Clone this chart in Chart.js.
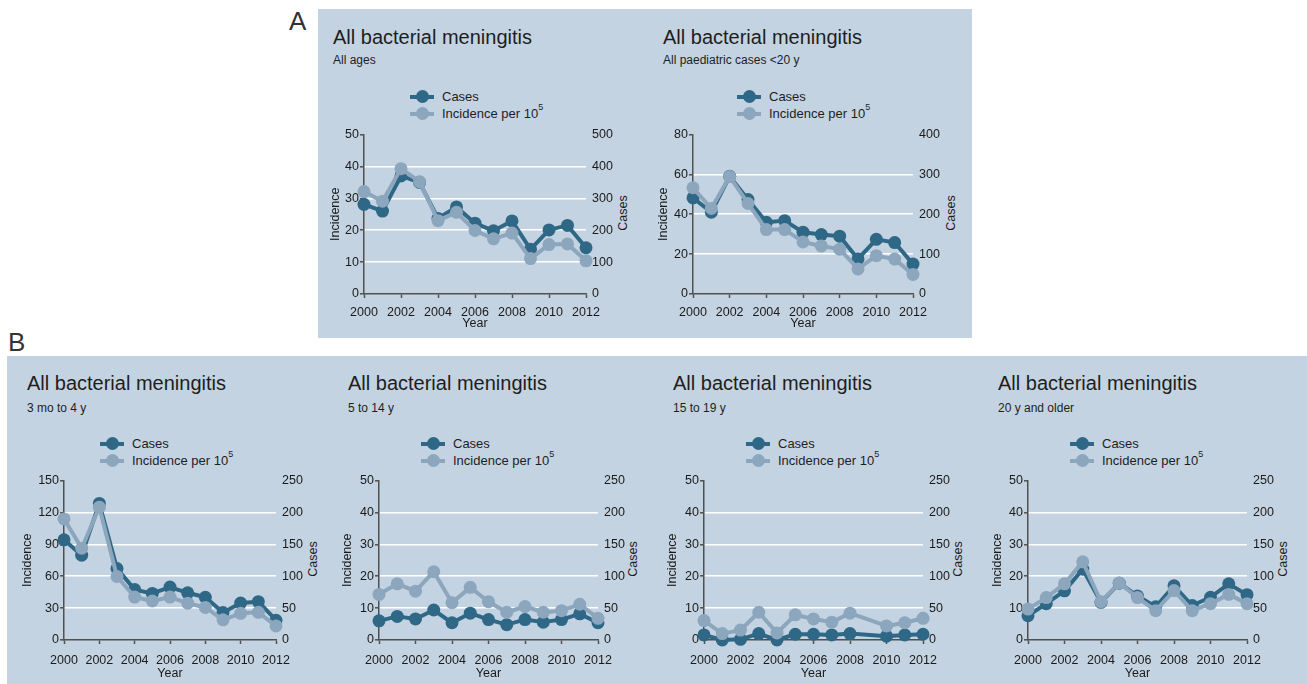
<!DOCTYPE html>
<html>
<head>
<meta charset="utf-8">
<title>All bacterial meningitis</title>
<script src="https://cdn.jsdelivr.net/npm/chart.js@4.4.1/dist/chart.umd.min.js"></script>
<style>
  body { margin: 0; width: 1307px; height: 684px; position: relative; overflow: hidden; background: #fff;
         font-family: "Liberation Sans", Arial, sans-serif; color: #1e1e1e; }
  .panel { position: absolute; background: #c4d3e1; }
  .plabel { position: absolute; font-size: 26px; line-height: 26px; color: #333; }
  .title { position: absolute; font-size: 20px; line-height: 20px; white-space: nowrap; }
  .sub { position: absolute; font-size: 12px; line-height: 12px; white-space: nowrap; }
  .legend { position: absolute; font-size: 13px; }
  .legend .row { display: flex; align-items: center; height: 17px; white-space: nowrap; }
  .mk { position: relative; width: 24px; height: 13px; margin-right: 8px; flex: none; }
  .mk::before { content: ""; position: absolute; left: 0; right: 0; top: 4.5px; height: 4px; background: var(--c); }
  .mk::after { content: ""; position: absolute; left: 5.5px; top: 0; width: 13px; height: 13px; border-radius: 50%; background: var(--c); }
  .legend sup { font-size: 9px; line-height: 1; vertical-align: top; position: relative; top: -3px; }
  .rtitle { position: absolute; font-size: 12.5px; white-space: nowrap; transform: translate(-50%, -50%) rotate(-90deg); }
  canvas { position: absolute; }
</style>
</head>
<body>
<div class="panel" style="left:318px;top:9px;width:654px;height:329px"></div>
<div class="panel" style="left:7px;top:356px;width:1300px;height:328px"></div>
<div class="plabel" style="left:289px;top:8px">A</div>
<div class="plabel" style="left:8px;top:329px">B</div>

<script>
// Valeurs (2000-2012)
var years = [2000, 2001, 2002, 2003, 2004, 2005, 2006, 2007, 2008, 2009, 2010, 2011, 2012];
var yearTicks = [2000, 2002, 2004, 2006, 2008, 2010, 2012];

// A - tous âges
var casesAllAges = [281, 260, 370, 350, 237, 273, 222, 198, 229, 140, 201, 215, 145];
var incAllAges = [32.1, 29.1, 39.3, 35.2, 23.0, 25.6, 19.9, 17.3, 19.1, 11.1, 15.5, 15.7, 10.4];

// A - pédiatrie < 20 ans
var casesPaed = [241, 205, 295, 237, 180, 184, 155, 149, 145, 88, 137, 129, 75];
var incPaed = [53.3, 42.9, 58.9, 45.4, 32.3, 32.3, 26.1, 24.1, 22.5, 12.6, 19.2, 17.5, 9.8];

// B - 3 mois à 4 ans
var casesUnder5 = [157, 133, 214, 112, 79, 73, 83, 74, 67, 43, 58, 60, 31];
var incUnder5 = [113.9, 86.3, 124.9, 59.7, 40.4, 36.7, 40.4, 34.6, 30.6, 19.0, 25.1, 26.0, 13.2];

// B - 5 à 14 ans
var cases5to14 = [30, 37, 33, 47, 27, 42, 32, 24, 32, 28, 32, 41, 27];
var inc5to14 = [14.3, 17.6, 15.3, 21.4, 11.7, 16.5, 12.0, 8.7, 10.5, 8.7, 9.2, 11.2, 6.8];

// B - 15 à 19 ans (pas de point en 2009)
var cases15to19 = [8, 0, 1, 10, 0, 9, 9, 8, 10, null, 6, 8, 9];
var inc15to19 = [6.1, 2.0, 3.1, 8.7, 2.2, 7.9, 6.6, 5.6, 8.4, null, 4.4, 5.4, 6.8];

// B - 20 ans et plus
var cases20plus = [38, 57, 77, 111, 59, 89, 69, 52, 85, 54, 67, 88, 71];
var inc20plus = [9.7, 13.3, 17.6, 24.5, 12.0, 17.9, 13.3, 9.2, 15.5, 9.2, 11.4, 14.3, 11.4];

// Graduations des axes
var incTicks50 = [0, 10, 20, 30, 40, 50];
var incTicks80 = [0, 20, 40, 60, 80];
var incTicks150 = [0, 30, 60, 90, 120, 150];
var casesTicks500 = [0, 100, 200, 300, 400, 500];
var casesTicks400 = [0, 100, 200, 300, 400];
var casesTicks250 = [0, 50, 100, 150, 200, 250];

var titleText = "All bacterial meningitis";
var subtitles = ["All ages", "All paediatric cases <20 y", "3 mo to 4 y", "5 to 14 y", "15 to 19 y", "20 y and older"];
var seriesLabels = ["Cases", "Incidence per 10"];

var DARK = "#2f6886";
var LIGHT = "#8ba6bd";
var AXIS = "#505050";
var GRID = "#ffffff";
var TEXT = "#1a1a1a";
var FONT_SIZE = 12.5;

Chart.defaults.font.family = '"Liberation Sans", Arial, sans-serif';

// Position des sous-graphiques
var panels = [
  { sub: subtitles[0], cases: casesAllAges, inc: incAllAges, incTicks: incTicks50, casesTicks: casesTicks500,
    box: { l: 364, r: 586, t: 131, b: 294 }, incX: 335, casesX: 623, yearY: 324, tickPad: 7,
    titleX: 333, titleY: 27, subY: 54, legX: 442, legY: 88 },
  { sub: subtitles[1], cases: casesPaed, inc: incPaed, incTicks: incTicks80, casesTicks: casesTicks400,
    box: { l: 693, r: 913, t: 131, b: 294 }, incX: 663, casesX: 951, yearY: 324, tickPad: 7,
    titleX: 663, titleY: 27, subY: 54, legX: 769, legY: 88 },
  { sub: subtitles[2], cases: casesUnder5, inc: incUnder5, incTicks: incTicks150, casesTicks: casesTicks250,
    box: { l: 64, r: 276, t: 477, b: 640 }, incX: 27, casesX: 313, yearY: 674, tickPad: 9,
    titleX: 27, titleY: 373, subY: 402, legX: 132, legY: 435 },
  { sub: subtitles[3], cases: cases5to14, inc: inc5to14, incTicks: incTicks50, casesTicks: casesTicks250,
    box: { l: 379, r: 598, t: 477, b: 640 }, incX: 347, casesX: 633, yearY: 674, tickPad: 9,
    titleX: 348, titleY: 373, subY: 402, legX: 453, legY: 435 },
  { sub: subtitles[4], cases: cases15to19, inc: inc15to19, incTicks: incTicks50, casesTicks: casesTicks250,
    box: { l: 704, r: 923, t: 477, b: 640 }, incX: 672, casesX: 958, yearY: 674, tickPad: 9,
    titleX: 673, titleY: 373, subY: 402, legX: 778, legY: 435 },
  { sub: subtitles[5], cases: cases20plus, inc: inc20plus, incTicks: incTicks50, casesTicks: casesTicks250,
    box: { l: 1028, r: 1247, t: 477, b: 640 }, incX: 997, casesX: 1283, yearY: 674, tickPad: 9,
    titleX: 998, titleY: 373, subY: 402, legX: 1102, legY: 435 }
];

var toPoints = function (values) {
  return years.map(function (yr, i) {
    return { x: yr, y: values[i] };
  });
};

var addDiv = function (cls, left, top, html) {
  var d = document.createElement("div");
  d.className = cls;
  d.style.left = left + "px";
  d.style.top = top + "px";
  d.innerHTML = html;
  document.body.appendChild(d);
  return d;
};

var fixedTicks = function (list) {
  return function (scale) {
    scale.ticks = list.map(function (v) { return { value: v }; });
  };
};

var buildPanel = function (p) {
  addDiv("title", p.titleX, p.titleY, titleText);
  addDiv("sub", p.titleX, p.subY, p.sub.replace("<", "&lt;"));

  var leg = addDiv("legend", p.legX - 32, p.legY, "");
  leg.innerHTML =
    '<div class="row"><span class="mk" style="--c:' + DARK + '"></span><span>' + seriesLabels[0] + "</span></div>" +
    '<div class="row"><span class="mk" style="--c:' + LIGHT + '"></span><span>' + seriesLabels[1] + "<sup>5</sup></span></div>";

  addDiv("rtitle", p.casesX, (p.box.t + p.box.b) / 2, "Cases");

  // Canvas calé pour que la zone de tracé tombe sur p.box
  var cl = Math.round(p.incX - 11);
  var ct = p.box.t - 10;
  var cr = p.box.r + 36;
  var cb = p.yearY + 7;
  var canvas = document.createElement("canvas");
  canvas.width = cr - cl;
  canvas.height = cb - ct;
  canvas.style.left = cl + "px";
  canvas.style.top = ct + "px";
  document.body.appendChild(canvas);

  var leftW = p.box.l - cl;
  var xH = cb - p.box.b;
  var incMax = p.incTicks[p.incTicks.length - 1];
  var casesMax = p.casesTicks[p.casesTicks.length - 1];

  var lineStyle = function (color) {
    return {
      borderColor: color,
      backgroundColor: color,
      pointBackgroundColor: color,
      pointBorderWidth: 0,
      pointRadius: 6.5,
      borderWidth: 4,
      borderJoinStyle: "round",
      tension: 0,
      spanGaps: true,
      clip: false
    };
  };

  var dsCases = Object.assign({ label: seriesLabels[0], data: toPoints(p.cases), yAxisID: "y1", order: 2 }, lineStyle(DARK));
  var dsInc = Object.assign({ label: seriesLabels[1], data: toPoints(p.inc), yAxisID: "y", order: 1 }, lineStyle(LIGHT));

  return new Chart(canvas, {
    type: "line",
    data: { datasets: [dsCases, dsInc] },
    options: {
      responsive: false,
      animation: false,
      events: [],
      layout: { padding: { top: 10, left: 0, right: 0, bottom: 0 }, autoPadding: false },
      plugins: { legend: { display: false }, tooltip: { enabled: false } },
      scales: {
        x: {
          type: "linear",
          min: years[0],
          max: years[years.length - 1],
          afterBuildTicks: fixedTicks(yearTicks),
          afterFit: function (s) { s.height = xH; },
          ticks: {
            color: TEXT, font: { size: FONT_SIZE }, padding: p.tickPad, maxRotation: 0, autoSkip: false,
            callback: function (v) { return String(v); }
          },
          grid: { drawOnChartArea: false, drawTicks: true, tickLength: 4, tickColor: AXIS, tickWidth: 1.5 },
          border: { display: true, color: AXIS, width: 1.5 },
          title: { display: true, text: "Year", color: TEXT, font: { size: FONT_SIZE }, padding: { top: 0, bottom: 0 } }
        },
        y: {
          position: "left",
          min: 0,
          max: incMax,
          afterBuildTicks: fixedTicks(p.incTicks),
          afterFit: function (s) { s.width = leftW; },
          ticks: { color: TEXT, font: { size: FONT_SIZE }, padding: 1 },
          grid: {
            color: function (c) {
              return c.tick && c.tick.value > 0 && c.tick.value < incMax ? GRID : "rgba(0,0,0,0)";
            },
            lineWidth: 1.6,
            drawTicks: true,
            tickLength: 4,
            tickColor: AXIS,
            tickWidth: 1.5
          },
          border: { display: true, color: AXIS, width: 1.5 },
          title: { display: true, text: "Incidence", color: TEXT, font: { size: FONT_SIZE }, padding: { top: 4, bottom: 4 } }
        },
        y1: {
          position: "right",
          min: 0,
          max: casesMax,
          afterBuildTicks: fixedTicks(p.casesTicks),
          afterFit: function (s) { s.width = 36; },
          ticks: { color: TEXT, font: { size: FONT_SIZE }, padding: 6 },
          grid: { display: false, drawTicks: false, drawOnChartArea: false },
          border: { display: false },
          title: { display: false }
        }
      }
    }
  });
};

panels.forEach(buildPanel);
</script>
</body>
</html>
